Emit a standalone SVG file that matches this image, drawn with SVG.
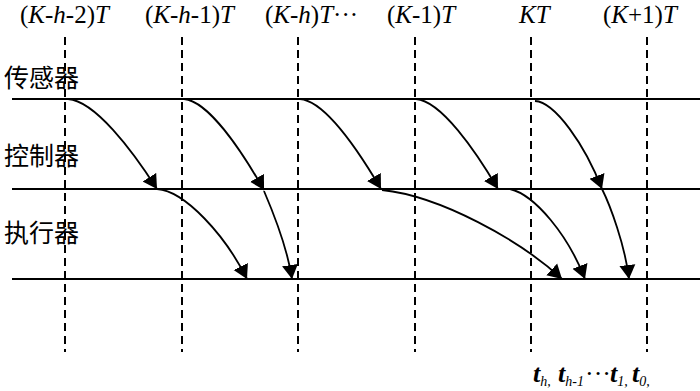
<svg xmlns="http://www.w3.org/2000/svg" width="700" height="391" viewBox="0 0 700 391">
<style>
.lbl{font-family:"Liberation Serif","Times New Roman",serif;font-size:25px;fill:#000}
.i{font-style:italic}
.cn{font-family:"Noto Sans CJK SC","Noto Sans",sans-serif;font-size:25px;fill:#000}
.dash{stroke:#000;stroke-width:2;stroke-dasharray:8 5;fill:none}
.hl{stroke:#000;stroke-width:2;fill:none}
.arr{stroke:#000;stroke-width:1.8;fill:none;marker-end:url(#ah)}
.tt{font-family:"Liberation Serif","Times New Roman",serif;font-size:26px;font-style:italic;font-weight:bold;fill:#000}
.sb{font-size:14px;font-weight:normal}
</style>
<defs>
<marker id="ah" markerUnits="userSpaceOnUse" markerWidth="15" markerHeight="17" refX="14" refY="8" orient="auto" viewBox="0 0 15 16">
<path d="M0,0 L14,8 L0,16 z" fill="#000"/>
</marker>
</defs>
<g id="time-labels">
<text class="lbl" x="20" y="23">(<tspan class="i">K</tspan>-<tspan class="i">h</tspan>-2)<tspan class="i">T</tspan></text>
<text class="lbl" x="145" y="23">(<tspan class="i">K</tspan>-<tspan class="i">h</tspan>-1)<tspan class="i">T</tspan></text>
<text class="lbl" x="265" y="23">(<tspan class="i">K</tspan>-<tspan class="i">h</tspan>)<tspan class="i">T</tspan>···</text>
<text class="lbl" x="387" y="23">(<tspan class="i">K</tspan>-1)<tspan class="i">T</tspan></text>
<text class="lbl" x="519" y="23"><tspan class="i">KT</tspan></text>
<text class="lbl" x="603" y="23">(<tspan class="i">K</tspan>+1)<tspan class="i">T</tspan></text>
</g>
<g id="grid">
<line class="dash" x1="65" y1="37" x2="65" y2="352"/>
<line class="dash" x1="182" y1="37" x2="182" y2="352"/>
<line class="dash" x1="298" y1="37" x2="298" y2="352"/>
<line class="dash" x1="415" y1="37" x2="415" y2="352"/>
<line class="dash" x1="531" y1="37" x2="531" y2="352"/>
<line class="dash" x1="647" y1="37" x2="647" y2="352"/>
</g>
<g id="sensor">
<text class="cn" x="4" y="87">传感器</text>
<line class="hl" x1="12" y1="99" x2="700" y2="99"/>
</g>
<g id="controller">
<text class="cn" x="4" y="165">控制器</text>
<line class="hl" x1="12" y1="189" x2="700" y2="189"/>
</g>
<g id="actuator">
<text class="cn" x="4" y="242">执行器</text>
<line class="hl" x1="12" y1="279" x2="700" y2="279"/>
</g>
<g id="connectors">
<path class="arr" d="M68,99 C95,101 132,150 157,189"/>
<path class="arr" d="M184,99 C208,101 241,150 264,190"/>
<path class="arr" d="M300,99 C325,101 358,150 381,189"/>
<path class="arr" d="M416,99 C441,101 475,150 498,189"/>
<path class="arr" d="M535,101 C555,102 585,145 602,189"/>
<path class="arr" d="M157,189 C185,191 225,235 247,279"/>
<path class="arr" d="M264,191 C270,205 287,245 292,279"/>
<path class="arr" d="M382,190 C440,196 520,240 562,279"/>
<path class="arr" d="M510,189 C535,195 568,235 585,279"/>
<path class="arr" d="M602,189 C610,205 625,245 629,279"/>
</g>
<g id="delay-labels">
<text class="tt" y="382"><tspan x="533">t</tspan><tspan class="sb" y="386">h,</tspan><tspan x="558" y="382">t</tspan><tspan class="sb" y="386">h-1</tspan><tspan x="585" y="382" font-weight="normal" font-style="normal">···</tspan><tspan x="610">t</tspan><tspan class="sb" y="386">1,</tspan><tspan x="632" y="382">t</tspan><tspan class="sb" y="386">0,</tspan></text>
</g>
</svg>
